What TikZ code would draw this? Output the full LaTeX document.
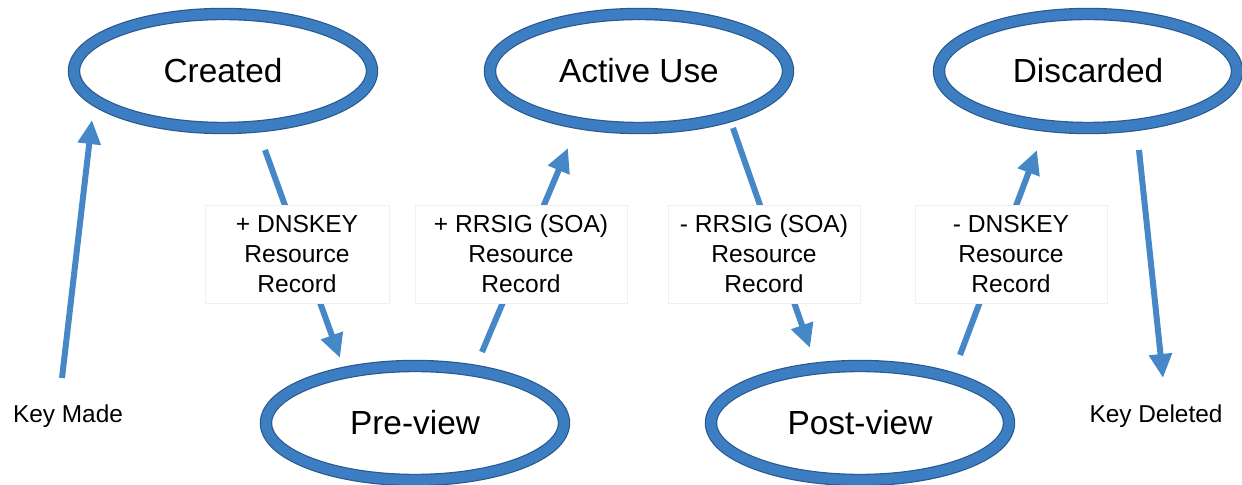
\documentclass[tikz,border=0pt]{standalone}
\usepackage{fontspec}
\setmainfont{Liberation Sans}
\usetikzlibrary{shapes.geometric,arrows.meta}

\definecolor{ringblue}{RGB}{61,126,194}
\definecolor{ringedge}{RGB}{40,90,145}
\definecolor{arrowblue}{RGB}{70,135,200}

\tikzset{
  state/.style={ellipse,draw=ringedge,line width=0.6pt,double=ringblue,double distance=5pt,
    minimum width=149pt,minimum height=57pt,font=\fontsize{16.7}{19}\selectfont},
  record/.style={draw=black!6,fill=white,align=center,minimum height=49pt,
    font=\fontsize{12.3}{15}\selectfont},
  flow/.style={draw=arrowblue,line width=3pt,-{Triangle[length=12pt,width=11pt]}},
  note/.style={font=\fontsize{12.2}{14}\selectfont}
}

\begin{document}
\begin{tikzpicture}[x=0.5pt,y=-0.5pt]
\useasboundingbox (0,0) rectangle (1242,485);

% the five states
\node [state] (created) at (223,71) {Created};
\node [state] (active) at (639,71) {Active Use};
\node [state] (discarded) at (1088,71) {Discarded};
\node [state] (preview) at (415,423) {Pre-view};
\node [state] (postview) at (860,423) {Post-view};

% free ends and gaps next to the rings
\coordinate (made) at (62,378);
\coordinate (deleted) at (1163,378);
\coordinate (created-in) at (92,120);
\coordinate (created-out) at (265,150);
\coordinate (preview-in) at (340,358);
\coordinate (preview-out) at (482,352);
\coordinate (active-in) at (568,148);
\coordinate (active-out) at (733,128);
\coordinate (postview-in) at (810,348);
\coordinate (postview-out) at (960,355);
\coordinate (discarded-in) at (1037,150);
\coordinate (discarded-out) at (1139,150);

\draw [flow] (made) -- (created-in);
\draw [flow] (created-out) -- (preview-in);
\draw [flow] (preview-out) -- (active-in);
\draw [flow] (active-out) -- (postview-in);
\draw [flow] (postview-out) -- (discarded-in);
\draw [flow] (discarded-out) -- (deleted);

% record changes
\node [record,minimum width=92pt] (addkey) at (297,254) {+ DNSKEY\\Resource\\Record};
\node [record,minimum width=106pt] (addsig) at (521,254) {+ RRSIG (SOA)\\Resource\\Record};
\node [record,minimum width=96pt] (delsig) at (764,254) {- RRSIG (SOA)\\Resource\\Record};
\node [record,minimum width=96pt] (delkey) at (1011,254) {- DNSKEY\\Resource\\Record};

\node [note] (madetext) at (68,416) {Key Made};
\node [note] (deletedtext) at (1156,416) {Key Deleted};
\end{tikzpicture}
\end{document}
